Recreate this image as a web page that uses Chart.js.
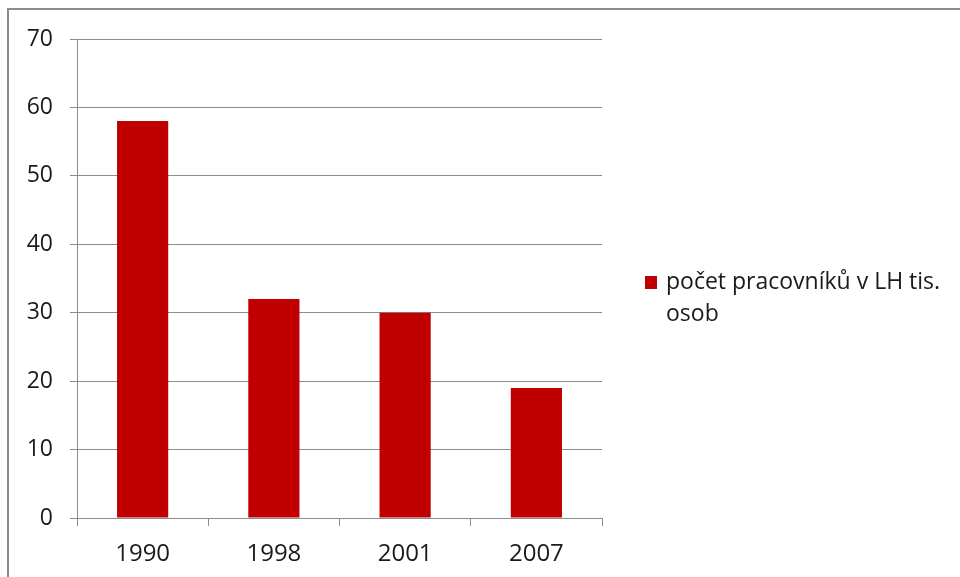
<!DOCTYPE html>
<html><head><meta charset="utf-8">
<script src="https://cdn.jsdelivr.net/npm/chart.js@4/dist/chart.umd.min.js"></script>
<style>
html,body{margin:0;padding:0;background:#fff;overflow:hidden;}
#wrap{position:absolute;left:0;top:0;width:960px;height:577px;}
#frame{position:absolute;left:7px;top:8px;width:1000px;height:700px;border-top:2px solid #8c8c8c;border-left:2px solid #8c8c8c;box-sizing:border-box;pointer-events:none;}
canvas{position:absolute;left:0;top:0;}
</style></head>
<body>
<div id="wrap"><canvas id="c" width="960" height="577"></canvas><div id="frame"></div></div>
<script>
const categories = ["1990", "1998", "2001", "2007"];
const seriesLabel = "počet pracovníků v LH tis. osob";
const seriesValues = [58, 32, 30, 19];
const yTicks = [0, 10, 20, 30, 40, 50, 60, 70];

const FONT = "'Open Sans', Lato, sans-serif";

const legendPlugin = {
  id: 'customLegend',
  afterDraw(chart) {
    const ctx = chart.ctx;
    const ds = chart.data.datasets[0];
    ctx.save();
    ctx.fillStyle = ds.backgroundColor;
    ctx.fillRect(645, 276, 12, 13);
    ctx.fillStyle = '#1a1a1a';
    ctx.font = "23px " + FONT;
    ctx.textBaseline = 'middle';
    ctx.textAlign = 'left';
    const words = ds.label.split(' ');
    const line1 = words.slice(0, words.length - 1).join(' ');
    const line2 = words[words.length - 1];
    ctx.fillText(line1, 666, 282);
    ctx.fillText(line2, 666, 314);
    ctx.restore();
  }
};

new Chart(document.getElementById('c'), {
  type: 'bar',
  data: {
    labels: categories,
    datasets: [{
      label: seriesLabel,
      data: seriesValues,
      backgroundColor: '#C00000',
      borderWidth: 0,
      barPercentage: 0.39,
      categoryPercentage: 1.0
    }]
  },
  options: {
    responsive: false,
    animation: false,
    devicePixelRatio: 1,
    layout: { padding: { left: 0, right: 358, top: 39, bottom: 0 } },
    plugins: { legend: { display: false }, tooltip: { enabled: false } },
    scales: {
      x: {
        grid: { display: true, drawOnChartArea: false, drawTicks: true, tickLength: 8, color: '#8c8c8c', offset: true },
        border: { display: true, color: '#8c8c8c', width: 1 },
        ticks: { color: '#1a1a1a', font: { size: 24, family: FONT }, padding: 14 },
        afterFit(scale) { scale.height = 59; }
      },
      y: {
        min: 0, max: 70,
        afterBuildTicks(scale) { scale.ticks = yTicks.map(v => ({ value: v })); },
        grid: { color: '#8c8c8c', tickLength: 7, lineWidth: 1 },
        border: { display: true, color: '#8c8c8c', width: 1 },
        ticks: { color: '#1a1a1a', font: { size: 23, family: FONT }, padding: 17 },
        afterFit(scale) { scale.width = 77; }
      }
    }
  },
  plugins: [legendPlugin]
});
</script>
</body></html>
